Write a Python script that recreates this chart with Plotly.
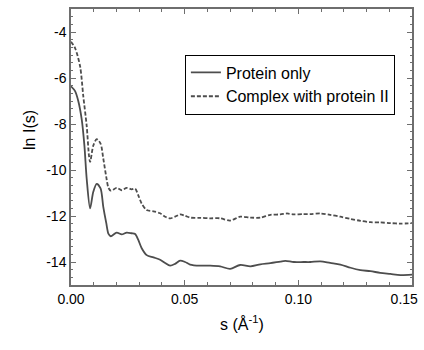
import plotly.graph_objects as go

# Scattering curves: s (1/Å) vs ln I(s)
s_protein = [0.0000, 0.0018, 0.0032, 0.0047, 0.0059, 0.0069, 0.0084, 0.0098, 0.0113,
             0.0130, 0.0142, 0.0155, 0.0165, 0.0175, 0.0201, 0.0223, 0.0245, 0.0267,
             0.0282, 0.0296, 0.0311, 0.0333, 0.0363, 0.0392, 0.0414, 0.0436, 0.0458,
             0.0480, 0.0502, 0.0524, 0.0568, 0.0612, 0.0656, 0.0700, 0.0744, 0.0789,
             0.0833, 0.0877, 0.0921, 0.0943, 0.0980, 0.1023, 0.1053, 0.1097, 0.1140,
             0.1185, 0.1230, 0.1273, 0.1317, 0.1360, 0.1405, 0.1449, 0.1500]
ln_protein = [-6.36, -6.57, -7.00, -7.79, -8.94, -10.38, -11.67, -10.95, -10.60,
              -10.80, -11.60, -12.30, -12.78, -12.88, -12.72, -12.80, -12.72, -12.75,
              -12.78, -13.04, -13.40, -13.70, -13.80, -13.90, -14.04, -14.16, -14.08,
              -13.94, -14.00, -14.11, -14.16, -14.16, -14.19, -14.30, -14.13, -14.19,
              -14.10, -14.05, -13.98, -13.95, -14.00, -14.00, -14.00, -13.97, -14.04,
              -14.11, -14.25, -14.35, -14.40, -14.47, -14.52, -14.57, -14.55]

s_complex = [0.0000, 0.0018, 0.0040, 0.0054, 0.0069, 0.0079, 0.0084, 0.0098, 0.0113,
             0.0130, 0.0142, 0.0155, 0.0165, 0.0175, 0.0201, 0.0223, 0.0245, 0.0267,
             0.0282, 0.0296, 0.0311, 0.0333, 0.0363, 0.0392, 0.0414, 0.0436, 0.0458,
             0.0480, 0.0502, 0.0524, 0.0568, 0.0612, 0.0656, 0.0700, 0.0744, 0.0789,
             0.0833, 0.0877, 0.0921, 0.0950, 0.0979, 0.1022, 0.1053, 0.1097, 0.1140,
             0.1185, 0.1230, 0.1273, 0.1317, 0.1360, 0.1405, 0.1449, 0.1500]
ln_complex = [-4.42, -4.70, -5.49, -6.79, -8.08, -9.37, -9.65, -8.94, -8.66,
              -8.85, -9.50, -10.30, -10.78, -10.90, -10.78, -10.88, -10.78, -10.84,
              -10.81, -11.10, -11.46, -11.74, -11.80, -11.88, -12.03, -12.10, -12.03,
              -11.93, -11.99, -12.07, -12.08, -12.10, -12.10, -12.20, -12.03, -12.07,
              -12.07, -11.95, -11.93, -11.89, -11.93, -11.92, -11.92, -11.89, -11.95,
              -12.03, -12.13, -12.21, -12.27, -12.28, -12.31, -12.33, -12.31]

x_ticks = [0.00, 0.05, 0.10, 0.15]
y_ticks = [-4, -6, -8, -10, -12, -14]

FONT = "Liberation Sans, Arial, sans-serif"
LINE = "#4d4d4d"
AXIS = "#6e6e6e"

fig = go.Figure()
fig.add_trace(go.Scatter(
    x=s_protein, y=ln_protein, mode="lines", name="Protein only",
    line=dict(color=LINE, width=1.8, shape="spline", smoothing=0.8),
))
fig.add_trace(go.Scatter(
    x=s_complex, y=ln_complex, mode="lines", name="Complex with protein II",
    line=dict(color=LINE, width=1.8, shape="spline", smoothing=0.8, dash="4px,2px"),
))

axis_common = dict(
    showline=True, linecolor=AXIS, linewidth=1.5, mirror="ticks",
    ticks="inside", ticklen=5, tickcolor=AXIS, tickwidth=1.2,
    showgrid=False, zeroline=False, ticklabeloverflow="allow", automargin=False,
    tickfont=dict(family=FONT, size=14, color="black"),
)

# the last x label is nudged left (padded) so it stays inside the page
x_labels = [f"{v:.2f}" for v in x_ticks]
x_labels[-1] = x_labels[-1] + "&nbsp;" * 4

fig.update_xaxes(
    range=[0, 0.15], tickmode="array", tickvals=x_ticks, ticktext=x_labels,
    minor=dict(tickmode="linear", dtick=0.01, tick0=0, ticks="inside", ticklen=3,
               tickcolor=AXIS, tickwidth=1, showgrid=False),
    **axis_common,
)
fig.update_yaxes(
    range=[-15, -3], tickmode="array", tickvals=y_ticks,
    ticktext=[str(v) for v in y_ticks],
    minor=dict(tickmode="linear", dtick=2 / 6, tick0=-4, ticks="inside", ticklen=2.5,
               tickcolor=AXIS, tickwidth=1, showgrid=False),
    **axis_common,
)

fig.add_annotation(
    text="s (Å<sup>-1</sup>)", xref="paper", yref="paper",
    x=0.5, y=-0.138, xanchor="center", yanchor="middle", showarrow=False,
    font=dict(family=FONT, size=16, color="black"),
)
fig.add_annotation(
    text="ln I(s)", xref="paper", yref="paper", textangle=-90,
    x=-0.12, y=0.562, xanchor="center", yanchor="middle", showarrow=False,
    font=dict(family=FONT, size=16, color="black"),
)

fig.update_layout(
    width=424, height=350,
    margin=dict(l=71, r=12, t=9, b=65, autoexpand=False),
    paper_bgcolor="white", plot_bgcolor="white",
    legend=dict(
        x=0.334, y=0.835, xanchor="left", yanchor="top",
        bordercolor="black", borderwidth=1, bgcolor="white",
        font=dict(family=FONT, size=16, color="black"),
        tracegroupgap=0, itemwidth=30,
    ),
)

fig.write_html("out.html")
